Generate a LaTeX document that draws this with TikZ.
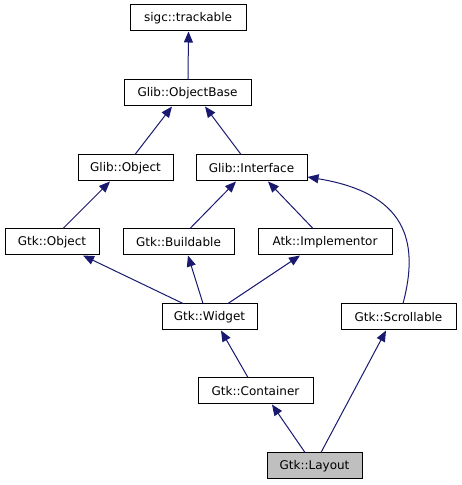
\documentclass[tikz,border=0pt]{standalone}
\usepackage{fontspec}
\setmainfont{DejaVu Sans}
\usetikzlibrary{arrows.meta}
\definecolor{edgeblue}{HTML}{191970}
\definecolor{boxgray}{HTML}{BFBFBF}
\tikzset{
  cls/.style={draw=black, line width=1pt, fill=white, minimum height=26pt, inner sep=0pt, font=\fontsize{12}{14}\selectfont, text=black},
  edge/.style={draw=edgeblue, line width=1pt, -{Triangle[length=11pt,width=9pt]}},
}
\begin{document}
\begin{tikzpicture}[x=1pt,y=1pt]
\useasboundingbox (0,0) rectangle (461,485);
\node[cls, minimum width=116pt] (trk) at (188,467) {sigc::trackable};
\node[cls, minimum width=127pt] (ob) at (187.5,392) {Glib::ObjectBase};
\node[cls, minimum width=95pt] (gobj) at (125.5,317) {Glib::Object};
\node[cls, minimum width=111pt] (iface) at (251.5,317) {Glib::Interface};
\node[cls, minimum width=94pt] (gtkobj) at (52,243) {Gtk::Object};
\node[cls, minimum width=111pt] (build) at (178.5,243) {Gtk::Buildable};
\node[cls, minimum width=134pt] (impl) at (325,243) {Atk::Implementor};
\node[cls, minimum width=95pt] (widget) at (209.5,168) {Gtk::Widget};
\node[cls, minimum width=115pt] (scroll) at (398.5,168) {Gtk::Scrollable};
\node[cls, minimum width=115pt] (cont) at (255.5,94) {Gtk::Container};
\node[cls, minimum width=95pt, fill=boxgray] (layout) at (314.5,19) {Gtk::Layout};

\draw[edge] ([xshift=0.5pt]ob.north) -- ([xshift=0.5pt]trk.south);
\draw[edge] ([xshift=9.5pt]gobj.north) -- ([xshift=-15.5pt]ob.south);
\draw[edge] ([xshift=-10.5pt]iface.north) -- ([xshift=17.5pt]ob.south);
\draw[edge] ([xshift=11pt]gtkobj.north) -- ([xshift=-15.5pt]gobj.south);
\draw[edge] ([xshift=11.5pt]build.north) -- ([xshift=-15.5pt]iface.south);
\draw[edge] ([xshift=-12pt]impl.north) -- ([xshift=16.5pt]iface.south);
\draw[edge] ([xshift=-26.5pt]widget.north) -- ([xshift=31pt]gtkobj.south);
\draw[edge] ([xshift=-6.5pt]widget.north) -- ([xshift=9.5pt]build.south);
\draw[edge] ([xshift=18.5pt]widget.north) -- ([xshift=-25pt]impl.south);
\draw[edge] ([xshift=4.5pt]scroll.north) .. controls (420,245) and (405,292) .. ([yshift=-9pt]iface.east);
\draw[edge] ([xshift=-7.5pt]cont.north) -- ([xshift=11.5pt]widget.south);
\draw[edge] ([xshift=-9.5pt]layout.north) -- ([xshift=16.5pt]cont.south);
\draw[edge] ([xshift=6.5pt]layout.north) -- ([xshift=-12.5pt]scroll.south);
\end{tikzpicture}
\end{document}
